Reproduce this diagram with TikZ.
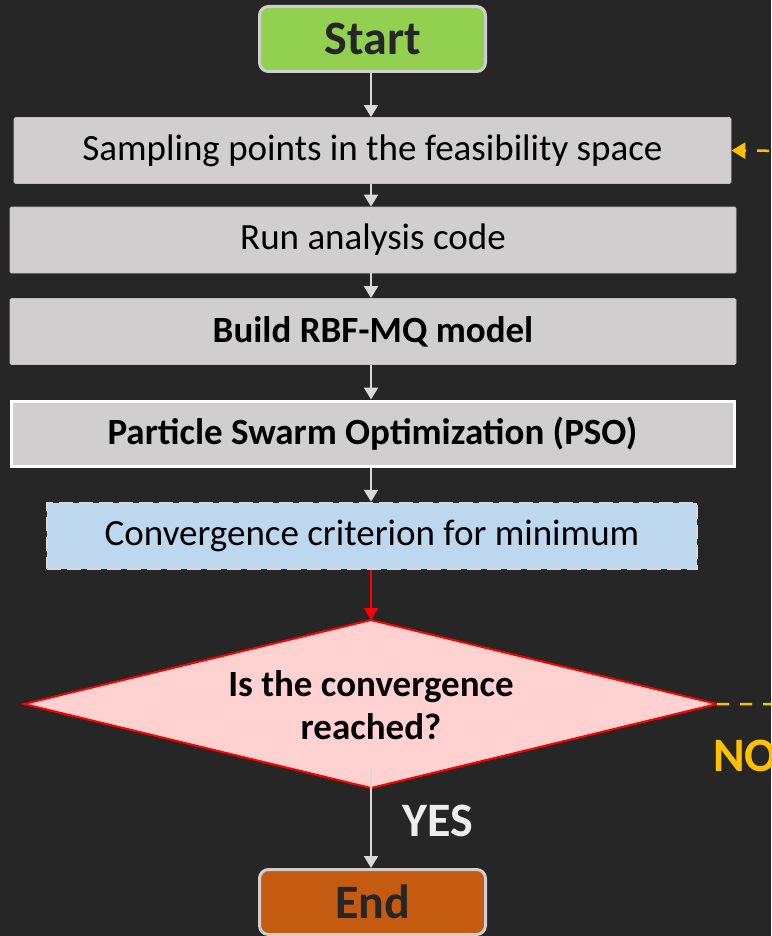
\documentclass[tikz,border=0pt]{standalone}
\usepackage{fontspec}
\setmainfont{Carlito}
\usetikzlibrary{arrows.meta,shapes.geometric}
\definecolor{bg}{HTML}{262626}
\definecolor{boxgray}{HTML}{D0CECE}
\definecolor{boxedge}{HTML}{BFBFBF}
\definecolor{linegray}{HTML}{D9D9D9}
\definecolor{startgreen}{HTML}{92D050}
\definecolor{endorange}{HTML}{C55A11}
\definecolor{convblue}{HTML}{BDD7EE}
\definecolor{decpink}{HTML}{FFD1D1}
\definecolor{noorange}{HTML}{FFC000}
\definecolor{darktext}{HTML}{262626}
\begin{document}
\begin{tikzpicture}[x=1pt,y=-1pt,
  terminal/.style={draw=boxgray,line width=3pt,rounded corners=9pt,minimum width=226pt,minimum height=65pt,inner sep=0pt,
     font=\fontsize{48}{52}\selectfont\bfseries,text=darktext},
  procbox/.style={draw=boxedge,line width=0.8pt,fill=boxgray,rounded corners=1.5pt,inner sep=0pt,minimum height=66pt,
     font=\fontsize{37}{42}\selectfont,text=black},
  boldbox/.style={procbox,font=\fontsize{37}{42}\selectfont\bfseries},
  flow/.style={draw=linegray,line width=2pt,-{Triangle[width=14pt,length=12pt]}},
  bigbold/.style={font=\fontsize{48}{52}\selectfont\bfseries,inner sep=0pt},
]
\useasboundingbox (0,0) rectangle (771,936);
\fill[bg] (0,0) rectangle (771,936);
\clip (0,0) rectangle (771,936);

\node[terminal,fill=startgreen] (start) at (372.5,39) {Start};
\node[procbox,minimum width=717pt] (sample) at (372.5,150.5) {Sampling points in the feasibility space};
\node[procbox,minimum width=726pt] (run) at (373,240) {Run analysis code};
\node[boldbox,minimum width=726pt] (build) at (373,331.5) {Build RBF-MQ model};
\node[boldbox,minimum width=723pt,minimum height=65pt,draw=white,line width=3pt,rounded corners=0pt] (pso) at (372.5,433.5) {Particle Swarm Optimization (PSO)};
\node[procbox,minimum width=650pt,fill=convblue,draw=linegray,line width=2.5pt,dash pattern=on 14pt off 6pt,rounded corners=0pt] (conv) at (372,536) {Convergence criterion for minimum};

% decision diamond
\coordinate (dn) at (371,620);
\coordinate (de) at (717,704);
\coordinate (ds) at (371,788);
\coordinate (dw) at (24,704);
\draw[red,line width=2pt,fill=decpink,line join=miter] (dn) -- (de) -- (ds) -- (dw) -- cycle;
\node[align=center,font=\fontsize{37}{43}\selectfont\bfseries,text=black,inner sep=0pt] (dec) at (371,705) {Is the convergence\\reached?};

\node[terminal,fill=endorange] (end) at (372.5,902) {End};

\draw[flow] (start.south -| sample.north) ++(-1.5,0) coordinate (a1) -- (a1 |- sample.north);
\draw[flow] (sample.south) ++(-1.5,0) coordinate (a2) -- (a2 |- run.north);
\draw[flow] (run.south) ++(-2,0) coordinate (a3) -- (a3 |- build.north);
\draw[flow] (build.south) ++(-2,0) coordinate (a4) -- (a4 |- pso.north);
\draw[flow] (pso.south) ++(-1.5,0) coordinate (a5) -- (a5 |- conv.north);
\draw[draw=red,line width=2pt,-{Triangle[width=14pt,length=12pt]}] (conv.south) ++(-1,0) coordinate (a6) -- (a6 |- dn);
\draw[flow] (ds) ++(0,-21) coordinate (a7) -- (a7 |- end.north);
\node[bigbold,anchor=base west,text=white!93!black] (yes) at (402,836) {YES};

\coordinate (loopa) at (800,704);
\coordinate (loopb) at (800,151);
\draw[noorange,line width=2.5pt,dash pattern=on 12pt off 11pt,-{Triangle[width=16pt,length=14pt]}]
  (de) -- (loopa) -- (loopb) -- (sample.east);
\node[bigbold,anchor=base west,text=noorange] (no) at (713,771) {NO};
\end{tikzpicture}
\end{document}
